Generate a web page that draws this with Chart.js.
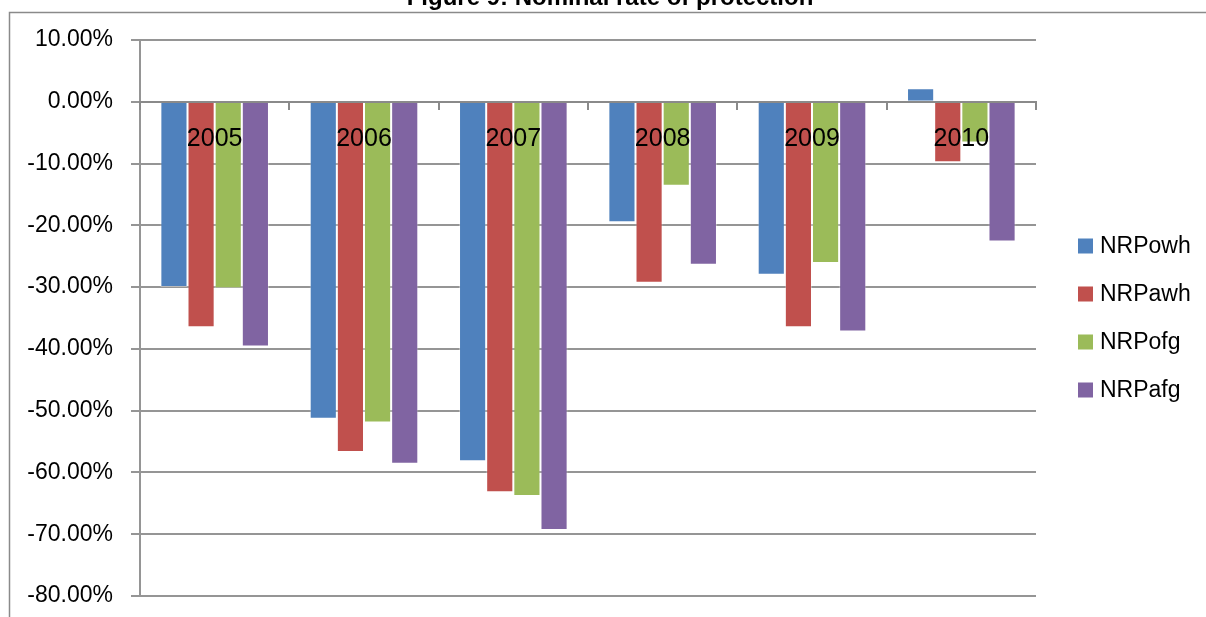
<!DOCTYPE html>
<html>
<head>
<meta charset="utf-8">
<script src="https://cdn.jsdelivr.net/npm/chart.js@4/dist/chart.umd.min.js"></script>
<style>
  html, body { margin: 0; padding: 0; background: #fff; }
  #wrap { position: relative; width: 1206px; height: 617px; }
</style>
</head>
<body>
<div id="wrap"><canvas id="c" width="1206" height="617"></canvas></div>
<script>
const categories = ['2005', '2006', '2007', '2008', '2009', '2010'];
const seriesNames = ['NRPowh', 'NRPawh', 'NRPofg', 'NRPafg'];
const NRPowh = [-30.0, -51.3, -58.2, -19.5, -28.0, 2.2];
const NRPawh = [-36.5, -56.7, -63.2, -29.3, -36.5, -9.8];
const NRPofg = [-30.2, -51.9, -63.8, -13.6, -26.1, -6.6];
const NRPafg = [-39.6, -58.6, -69.3, -26.4, -37.2, -22.6];
const yTicks = [10, 0, -10, -20, -30, -40, -50, -60, -70, -80];
const colors = ['#4F81BD', '#C0504D', '#9BBB59', '#8064A2'];
const titleText = 'Figure 9: Nominal rate of protection';

const FONT = "'Liberation Sans', Arial, sans-serif";

const seriesValues = [NRPowh, NRPawh, NRPofg, NRPafg];
const datasets = seriesNames.map((name, i) => ({
  label: name,
  data: seriesValues[i],
  backgroundColor: colors[i],
  borderColor: 'rgba(255,255,255,0.35)',
  borderWidth: 1,
  categoryPercentage: 4 / 5.5,
  barPercentage: 1.0
}));

const framePlugin = {
  id: 'frame',
  beforeDraw(chart) {
    const ctx = chart.ctx;
    ctx.save();
    ctx.fillStyle = '#fff';
    ctx.fillRect(0, 0, chart.width, chart.height);
    ctx.strokeStyle = '#8a8a8a';
    ctx.lineWidth = 1.5;
    ctx.strokeRect(9.5, 12.5, chart.width + 20, chart.height + 20);
    ctx.fillStyle = '#000';
    ctx.font = 'bold 24px ' + FONT;
    ctx.textAlign = 'center';
    ctx.textBaseline = 'alphabetic';
    ctx.fillText(titleText, 610, 5);
    ctx.restore();
  },
  afterDraw(chart) {
    const ctx = chart.ctx;
    const area = chart.chartArea;
    const mid = (area.top + area.bottom) / 2;
    const step = 48;
    ctx.save();
    ctx.font = '23px ' + FONT;
    ctx.textBaseline = 'middle';
    ctx.textAlign = 'left';
    chart.data.datasets.forEach((ds, i) => {
      const cy = mid + (i - (chart.data.datasets.length - 1) / 2) * step;
      const x = area.right + 42;
      ctx.fillStyle = ds.backgroundColor;
      ctx.fillRect(x, cy - 7.5, 15, 15);
      ctx.fillStyle = '#000';
      ctx.fillText(ds.label, x + 22, cy + 1);
    });
    ctx.restore();
  }
};

new Chart(document.getElementById('c'), {
  type: 'bar',
  data: { labels: categories, datasets },
  options: {
    responsive: false,
    animation: false,
    devicePixelRatio: 1,
    layout: { padding: { top: 40, bottom: 21, left: 0, right: 170 } },
    plugins: {
      legend: { display: false },
      title: { display: false },
      tooltip: { enabled: false }
    },
    scales: {
      x: {
        position: { y: 0 },
        afterFit(scale) { scale.height = 0; },
        grid: {
          display: true,
          drawOnChartArea: false,
          drawTicks: true,
          tickLength: 7,
          offset: true,
          color: '#8a8a8a',
          lineWidth: 2,
          z: 1
        },
        border: { display: true, color: '#8a8a8a', width: 2, z: 1 },
        ticks: {
          color: '#000',
          font: { family: FONT, size: 25 },
          padding: 15,
          maxRotation: 0,
          autoSkip: false,
          z: 2
        }
      },
      y: {
        min: -80,
        max: 10,
        afterFit(scale) {
          scale.width = 140;
          scale.paddingTop = 0;
          scale.paddingBottom = 0;
        },
        afterBuildTicks(scale) { scale.ticks = yTicks.map(v => ({ value: v })); },
        grid: {
          color: '#959595',
          lineWidth: 2,
          drawTicks: true,
          tickLength: 9
        },
        border: { display: true, color: '#959595', width: 2 },
        ticks: {
          color: '#000',
          font: { family: FONT, size: 23 },
          padding: 18,
          callback: v => (Math.abs(v) < 1e-9 ? 0 : v).toFixed(2) + '%'
        }
      }
    }
  },
  plugins: [framePlugin]
});
</script>
</body>
</html>
